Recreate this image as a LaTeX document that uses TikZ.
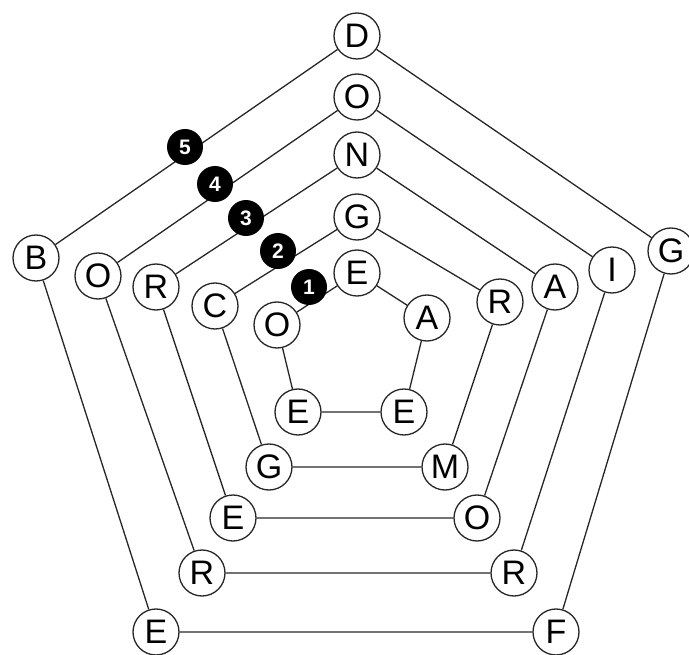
\documentclass[tikz,border=0pt]{standalone}
\usepackage{fontspec}
\setmainfont{Liberation Sans}

\begin{document}
\begin{tikzpicture}[x=1pt, y=-1pt,
    letter/.style={draw=black!85, line width=1.3pt, circle, fill=white, minimum size=46pt, inner sep=0pt, font=\fontsize{34}{34}\selectfont},
    num/.style={circle, fill=black, text=white, minimum size=36pt, inner sep=0pt, font=\fontsize{21}{21}\selectfont\bfseries},
    ring/.style={draw=black!85, line width=1.3pt}]
    \useasboundingbox (0,0) rectangle (689,655);

    \node[letter] (t5) at (357,36) {D};
    \node[letter] (r5) at (671,251) {G};
    \node[letter] (br5) at (556,632) {F};
    \node[letter] (bl5) at (156,632) {E};
    \node[letter] (l5) at (36,258) {B};

    \node[letter] (t4) at (357,97) {O};
    \node[letter] (r4) at (612,270) {I};
    \node[letter] (br4) at (514,573) {R};
    \node[letter] (bl4) at (202,573) {R};
    \node[letter] (l4) at (98,276) {O};

    \node[letter] (t3) at (357,155) {N};
    \node[letter] (r3) at (555,287) {A};
    \node[letter] (br3) at (477,518) {O};
    \node[letter] (bl3) at (233,518) {E};
    \node[letter] (l3) at (156,287) {R};

    \node[letter] (t2) at (357,217) {G};
    \node[letter] (r2) at (500,302) {R};
    \node[letter] (br2) at (445,467) {M};
    \node[letter] (bl2) at (269,467) {G};
    \node[letter] (l2) at (215,306) {C};

    \node[letter] (t1) at (357,273) {E};
    \node[letter] (r1) at (427,318) {A};
    \node[letter] (br1) at (404,412) {E};
    \node[letter] (bl1) at (298,412) {E};
    \node[letter] (l1) at (277,325) {O};

    \draw[ring] (t5) -- (r5) -- (br5) -- (bl5) -- (l5) -- (t5);
    \draw[ring] (t4) -- (r4) -- (br4) -- (bl4) -- (l4) -- (t4);
    \draw[ring] (t3) -- (r3) -- (br3) -- (bl3) -- (l3) -- (t3);
    \draw[ring] (t2) -- (r2) -- (br2) -- (bl2) -- (l2) -- (t2);
    \draw[ring] (t1) -- (r1) -- (br1) -- (bl1) -- (l1) -- (t1);

    \node[num] (n5) at (185,147) {5};
    \node[num] (n4) at (215,184) {4};
    \node[num] (n3) at (246,218) {3};
    \node[num] (n2) at (278,251) {2};
    \node[num] (n1) at (309,287) {1};
\end{tikzpicture}
\end{document}
